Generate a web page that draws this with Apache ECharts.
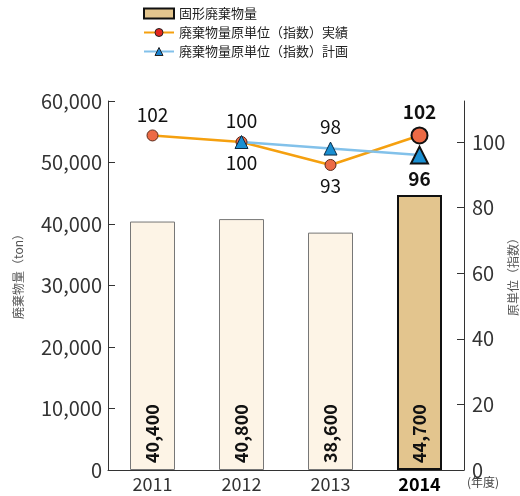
<!DOCTYPE html>
<html><head><meta charset="utf-8">
<script src="https://cdn.jsdelivr.net/npm/echarts@6/dist/echarts.min.js"></script>
<style>html,body{margin:0;padding:0;background:#fff}#c{width:520px;height:496px}</style>
</head><body><div id="c"></div>
<script>
const years = ['2011', '2012', '2013', '2014'];
const wasteTon = [40400, 40800, 38600, 44700];
const indexActual = [102, 100, 93, 102];
const indexPlan = [null, 100, 98, 96];
const leftTicks = [0, 10000, 20000, 30000, 40000, 50000, 60000];
const rightTicks = [0, 20, 40, 60, 80, 100];
const actualLabelPos = ['top', 'bottom', 'bottom', 'top'];
const planLabelPos = [null, 'top', 'top', 'bottom'];

const FF = "'Noto Sans CJK JP', 'Noto Sans', sans-serif";
const last = years.length - 1;
const fmt = v => v.toLocaleString('en-US');

const chart = echarts.init(document.getElementById('c'));
chart.setOption({
  animation: false,
  textStyle: { fontFamily: FF },
  legend: {
    orient: 'vertical', left: 143, top: 7, padding: 0, itemWidth: 30, itemHeight: 10, itemGap: 6,
    textStyle: { fontFamily: FF, fontSize: 13, color: '#222' },
    data: [
      { name: '固形廃棄物量', icon: 'rect', itemStyle: { color: '#e3c58e', borderColor: '#111', borderWidth: 2 } },
      { name: '廃棄物量原単位（指数）実績', itemStyle: { color: '#e5261f', borderColor: '#222', borderWidth: 1 } },
      { name: '廃棄物量原単位（指数）計画', itemStyle: { color: '#1a82d0', borderColor: '#222', borderWidth: 1 } }
    ]
  },
  grid: { left: 108, right: 56, top: 101, bottom: 26 },
  xAxis: {
    type: 'category', data: years,
    axisLine: { lineStyle: { color: '#333', width: 1 } },
    axisTick: { inside: true, length: 7, lineStyle: { color: '#333' } },
    axisLabel: {
      margin: 5, fontSize: 18, color: '#333', fontFamily: FF,
      formatter: (v, i) => i === last ? '{b|' + v + '}' : v,
      rich: { b: { fontSize: 18, fontWeight: 'bold', color: '#000', fontFamily: FF } }
    }
  },
  yAxis: [
    {
      type: 'value', min: 0, max: 60000, interval: 10000,
      axisLine: { show: true, lineStyle: { color: '#333' } },
      axisTick: { show: true, inside: true, length: 7, lineStyle: { color: '#333' } },
      axisLabel: { margin: 6, fontSize: 20, color: '#333', fontFamily: FF, formatter: v => leftTicks.includes(v) ? fmt(v) : '' },
      splitLine: { show: false }
    },
    {
      type: 'value', min: 0, max: 112.5, position: 'right',
      axisLine: { show: true, lineStyle: { color: '#333' } },
      axisTick: { show: true, inside: true, length: 7, customValues: rightTicks, lineStyle: { color: '#333' } },
      axisLabel: { margin: 8, fontSize: 20, color: '#333', fontFamily: FF, customValues: rightTicks },
      splitLine: { show: false }
    }
  ],
  graphic: [
    { type: 'text', left: 12, top: 228, rotation: Math.PI / 2, style: { text: '廃棄物量（ton）', fontSize: 12, fill: '#555', fontFamily: FF } },
    { type: 'text', left: 507, top: 232, rotation: Math.PI / 2, style: { text: '原単位（指数）', fontSize: 12, fill: '#555', fontFamily: FF } },
    { type: 'text', left: 467, top: 476, style: { text: '(年度)', fontSize: 12, fill: '#444', fontFamily: FF } }
  ],
  series: [
    {
      name: '固形廃棄物量', type: 'bar', yAxisIndex: 0, barWidth: 45,
      itemStyle: { color: '#e3c58e', borderColor: '#111', borderWidth: 2 },
      data: wasteTon.map((v, i) => i === last ? { value: v } :
        { value: v, itemStyle: { color: '#fdf4e6', borderColor: '#777', borderWidth: 1 } }),
      label: {
        show: true, position: 'insideBottom', rotate: 90, align: 'left', verticalAlign: 'middle',
        distance: 7, fontSize: 18, fontWeight: 'bold', color: '#111', fontFamily: FF,
        formatter: p => fmt(p.value)
      }
    },
    {
      name: '廃棄物量原単位（指数）実績', type: 'line', yAxisIndex: 1,
      lineStyle: { color: '#f5a00f', width: 2.5 },
      itemStyle: { color: '#ec6a45', borderColor: '#5a2a1a', borderWidth: 1 },
      symbol: 'circle', symbolSize: 11,
      data: indexActual.map((v, i) => ({
        value: v,
        symbolSize: i === last ? 16 : 11,
        itemStyle: i === last ? { borderColor: '#111', borderWidth: 2 } : undefined,
        label: { show: true, position: actualLabelPos[i], distance: 5, fontSize: 19, color: '#111', fontFamily: FF, fontWeight: i === last ? 'bold' : 'normal' }
      }))
    },
    {
      name: '廃棄物量原単位（指数）計画', type: 'line', yAxisIndex: 1,
      lineStyle: { color: '#82c1ea', width: 2.5 },
      itemStyle: { color: '#1a8fd2', borderColor: '#0b2a44', borderWidth: 1 },
      symbol: 'triangle', symbolSize: 13,
      data: indexPlan.map((v, i) => v == null ? null : ({
        value: v,
        symbolSize: i === last ? 17 : 13,
        itemStyle: i === last ? { borderColor: '#111', borderWidth: 2 } : undefined,
        label: { show: true, position: planLabelPos[i], distance: 5, fontSize: 19, color: '#111', fontFamily: FF, fontWeight: i === last ? 'bold' : 'normal' }
      }))
    }
  ]
});
</script></body></html>
